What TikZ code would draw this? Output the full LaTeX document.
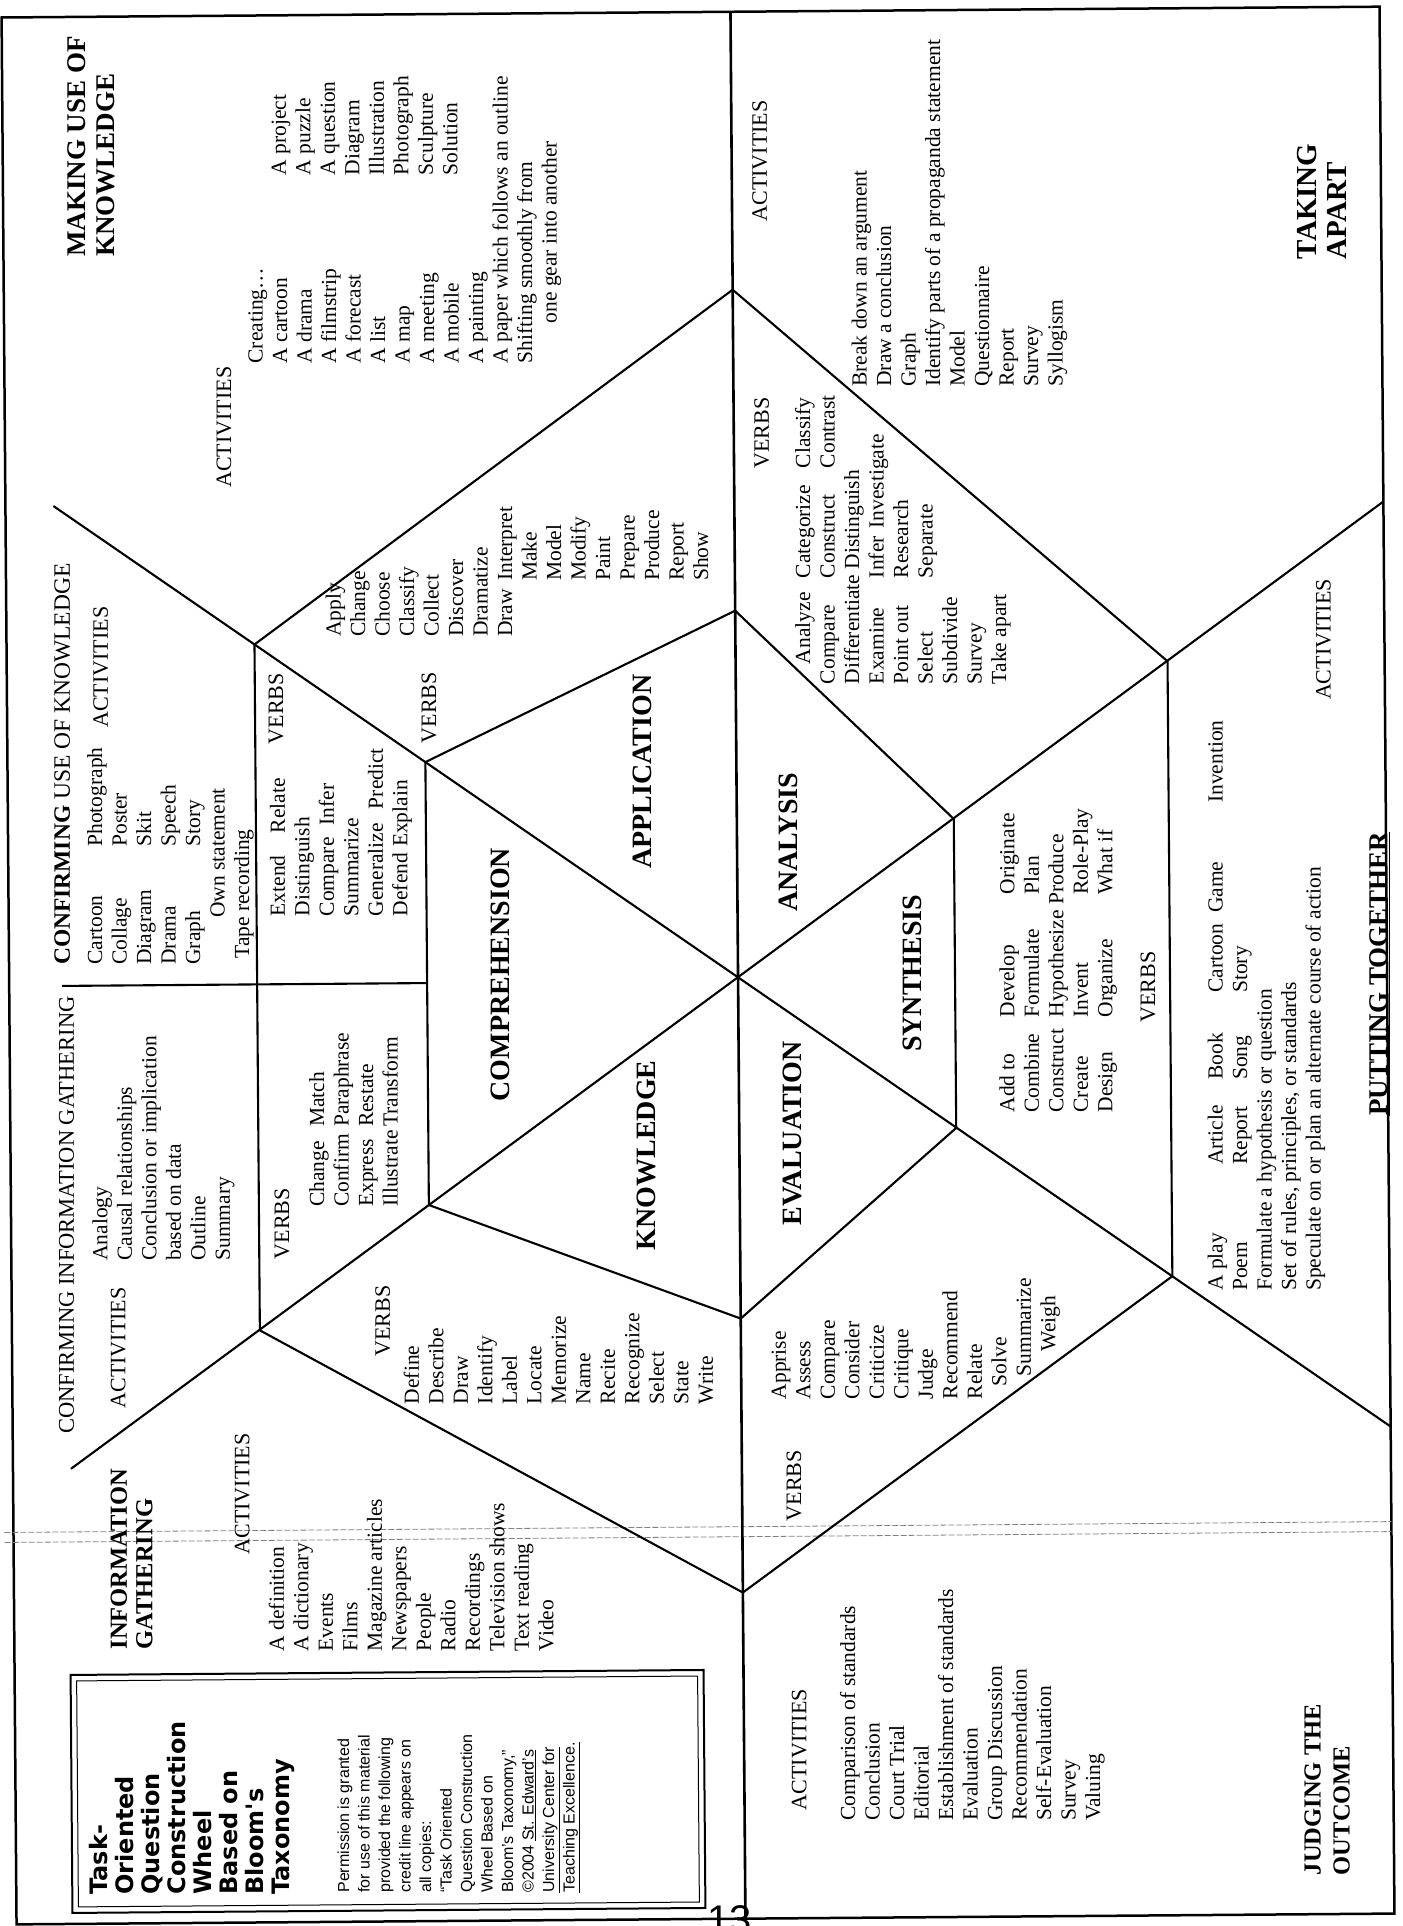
\documentclass[tikz,border=0pt]{standalone}
\usepackage{fontspec}
\setmainfont{Liberation Serif}
\setsansfont{Liberation Sans}
\newfontfamily\wheelsans{DejaVu Sans}
\usepackage{tikz}

\newcommand{\bodyfont}{\fontsize{21.5}{24.5}\selectfont}
\newcommand{\headfont}{\fontsize{22}{24.5}\selectfont}
\newcommand{\sectfont}{\fontsize{22.5}{24.5}\selectfont}
\newcommand{\regionfont}{\fontsize{27}{29}\selectfont\bfseries}
\newcommand{\tierfont}{\fontsize{28}{30}\selectfont\bfseries}
\newcommand{\tcol}[2]{\makebox[#1][l]{#2}}

\begin{document}
\begin{tikzpicture}[x=1pt,y=-1pt,
  ln/.style={line width=2.1pt},
  txt/.style={rotate=90,anchor=north west,inner sep=0pt,align=left,font=\bodyfont},
  head/.style={txt,font=\headfont},
  region/.style={txt,font=\regionfont},
  tier/.style={rotate=90,inner sep=0pt,font=\tierfont}]
  \useasboundingbox (0,0) rectangle (1402,1926);
  \begin{scope}[rotate around={0.45:(701,963)}]
  \coordinate (C) at (738,978);
  \coordinate (PR) at (738,611);
  \coordinate (PL) at (738,1319);
  \coordinate (PTR) at (427,760);
  \coordinate (PTL) at (427,1203);
  \coordinate (PBR) at (955,821);
  \coordinate (PBL) at (955,1130);
  \coordinate (QR) at (738,290);
  \coordinate (QL) at (738,1593);
  \coordinate (QTR) at (257,641);
  \coordinate (QTL) at (257,1327);
  \coordinate (QBR) at (1170,665);
  \coordinate (QBL) at (1170,1280);
  \coordinate (DA) at (57,501);
  \coordinate (DB) at (1387,1432);
  \coordinate (EA) at (67,1464);
  \coordinate (EB) at (1387,507);
  \coordinate (AT) at (738,12);
  \coordinate (AB) at (738,1919);
  \coordinate (H) at (62,981);
  \coordinate (HE) at (427,981);
  % 外枠と折り線
  \draw[line width=2.5pt] (9,12) rectangle (1387,1919);
  \draw[gray,line width=0.8pt,dash pattern=on 6pt off 2pt] (0,1527) -- (1387,1527) (0,1537) -- (1387,1537);
  % 軸と対角線
  \draw[line width=2.6pt] (AT) -- (AB);
  \draw[ln] (DA) -- (DB);
  \draw[ln] (EA) -- (EB);
  \draw[ln] (H) -- (HE);
  % 六角形
  \draw[ln] (PR) -- (PTR) -- (PTL) -- (PL) -- (PBL) -- (PBR) -- cycle;
  \draw[ln] (QR) -- (QTR) -- (QTL) -- (QL) -- (QBL) -- (QBR) -- cycle;
  % 中心の六つの段階
  \node[tier] (comp) at (500,973) {COMPREHENSION};
  \node[tier] (appl) at (644,771) {APPLICATION};
  \node[tier] (know) at (645,1155) {KNOWLEDGE};
  \node[tier] (anal) at (789,843) {ANALYSIS};
  \node[tier] (eval) at (791,1134) {EVALUATION};
  \node[tier] (synt) at (912,975) {SYNTHESIS};
  % MAKING USE OF KNOWLEDGE
  \node[region] (mutitle) at (73,252) {MAKING USE OF\\KNOWLEDGE};
  \node[head] (muact) at (220,484) {ACTIVITIES};
  \node[txt] (mulist) at (253,360) {Creating\ldots\\A cartoon\\A drama\\A filmstrip\\A forecast\\A list\\A map\\A meeting\\A mobile\\A painting\\A paper which follows an outline\\Shifting smoothly from\\\hspace*{40pt}one gear into another};
  \node[txt] (mulist2) at (277.5,172) {A project\\A puzzle\\A question\\Diagram\\Illustration\\Photograph\\Sculpture\\Solution};
  \node[head] (apverbs) at (423,741) {VERBS};
  \node[txt] (aplist) at (328,634) {Apply\\Change\\Choose\\Classify\\Collect\\Discover\\Dramatize\\\tcol{56pt}{Draw}Interpret\\\hspace*{56pt}Make\\\hspace*{56pt}Model\\\hspace*{56pt}Modify\\\hspace*{56pt}Paint\\\hspace*{56pt}Prepare\\\hspace*{56pt}Produce\\\hspace*{56pt}Report\\\hspace*{56pt}Show};
  % TAKING APART
  \node[head] (taact) at (758,222) {ACTIVITIES};
  \node[txt] (talist) at (856,388) {Break down an argument\\Draw a conclusion\\Graph\\Identify parts of a propaganda statement\\Model\\Questionnaire\\Report\\Survey\\Syllogism};
  \node[region,font=\fontsize{29}{30}\selectfont\bfseries] (tatitle) at (1303,264) {TAKING\\APART};
  \node[head] (anverbs) at (758,469) {VERBS};
  \node[txt] (anlist) at (797,685) {\tcol{106pt}{\hspace*{20pt}Analyze}\tcol{110pt}{Categorize}Classify\\\tcol{106pt}{Compare}\tcol{110pt}{Construct}Contrast\\Differentiate Distinguish\\\tcol{106pt}{Examine}Infer\hspace{8pt}Investigate\\\tcol{106pt}{Point out}Research\\\tcol{106pt}{Select}Separate\\Subdivide\\Survey\\Take apart};
  % PUTTING TOGETHER
  \node[txt] (ptverb) at (998,1115) {\tcol{95pt}{Add to}\tcol{123pt}{Develop}Originate\\\tcol{95pt}{Combine}\tcol{123pt}{Formulate}Plan\\\tcol{95pt}{Construct}Hypothesize Produce\\\tcol{95pt}{Create}\tcol{123pt}{Invent}Role-Play\\\tcol{95pt}{Design}\tcol{123pt}{Organize}What if};
  \node[head] (ptverbs) at (1140,1026) {VERBS};
  \node[txt] (ptlist) at (1205,1295) {\tcol{126pt}{A play}\tcol{85pt}{Article}\tcol{87pt}{Book}\tcol{80pt}{Cartoon}\tcol{110pt}{Game}Invention\\\tcol{126pt}{Poem}\tcol{85pt}{Report}\tcol{87pt}{Song}Story\\Formulate a hypothesis or question\\Set of rules, principles, or standards\\Speculate on or plan an alternate course of action};
  \node[head] (ptact) at (1318,705) {ACTIVITIES};
  \node[region,font=\fontsize{27}{29}\selectfont\bfseries] (pttitle) at (1368,1121) {\underline{PUTTING TOGETHER}};
  % JUDGING THE OUTCOME
  \node[region,font=\fontsize{24.5}{29}\selectfont\bfseries] (jotitle) at (1297,1880) {JUDGING THE\\OUTCOME};
  \node[head] (joact) at (785,1811) {ACTIVITIES};
  \node[txt] (jolist) at (833,1822) {Comparison of standards\\Conclusion\\Court Trial\\Editorial\\Establishment of standards\\Evaluation\\Group Discussion\\Recommendation\\Self-Evaluation\\Survey\\Valuing};
  \node[head] (evverbs) at (782,1522) {VERBS};
  \node[txt] (evlist) at (768,1400) {Apprise\\Assess\\Compare\\Consider\\Criticize\\Critique\\Judge\\Recommend\\Relate\\\hspace*{13pt}Solve\\\hspace*{23pt}Summarize\\\hspace*{48pt}Weigh};
  % INFORMATION GATHERING
  \node[region,font=\fontsize{24.5}{25.5}\selectfont\bfseries] (igtitle) at (105,1645) {INFORMATION\\GATHERING};
  \node[head] (igact) at (230,1551) {ACTIVITIES};
  \node[txt] (iglist) at (263,1648) {A definition\\A dictionary\\Events\\Films\\Magazine articles\\Newspapers\\People\\Radio\\Recordings\\Television shows\\Text reading\\Video};
  \node[head] (knverbs) at (372,1354) {VERBS};
  \node[txt] (knlist) at (400,1402) {Define\\Describe\\Draw\\Identify\\Label\\Locate\\Memorize\\Name\\Recite\\Recognize\\Select\\State\\Write};
  % CONFIRMING INFORMATION GATHERING
  \node[txt,font=\sectfont] (cigtitle) at (55,1429) {CONFIRMING INFORMATION GATHERING};
  \node[head] (cigact) at (107,1404) {ACTIVITIES};
  \node[txt] (ciglist) at (90,1256) {Analogy\\Causal relationships\\Conclusion or implication\\based on data\\Outline\\Summary};
  \node[head] (cpverbs) at (272,1256) {VERBS};
  \node[txt] (cplist) at (307,1204) {\tcol{80pt}{Change}Match\\\tcol{80pt}{Confirm}Paraphrase\\\tcol{80pt}{Express}Restate\\\tcol{80pt}{Illustrate}Transform};
  % CONFIRMING USE OF KNOWLEDGE
  \node[txt,font=\fontsize{23.5}{24.5}\selectfont] (cuktitle) at (54,960) {\textbf{CONFIRMING} USE OF KNOWLEDGE};
  \node[head] (cukact) at (95,723) {ACTIVITIES};
  \node[txt] (cuklist) at (87,960) {\tcol{118pt}{Cartoon}Photograph\\\tcol{118pt}{Collage}Poster\\\tcol{118pt}{Diagram}Skit\\\tcol{118pt}{Drama}Speech\\\tcol{118pt}{Graph}Story\\\hspace*{47pt}Own statement\\\hspace*{6pt}Tape recording};
  \node[head] (ckverbs) at (270,741) {VERBS};
  \node[txt] (cklist) at (270,913) {Extend\hspace{22pt}Relate\\Distinguish\\Compare\hspace{12pt}Infer\\Summarize\\Generalize\hspace{14pt}Predict\\Defend\hspace{6pt}Explain};
  % 表題の枠
  \draw[line width=2pt] (65,1670) rectangle (698,1908);
  \draw[line width=1pt] (71,1676) rectangle (692,1902);
  \node[txt,font=\wheelsans\bfseries\fontsize{24}{26}\selectfont] (boxtitle) at (82,1890) {Task-\\Oriented\\Question\\Construction\\Wheel\\Based on\\Bloom's\\Taxonomy};
  \node[txt,font=\sffamily\fontsize{16}{20.5}\selectfont] (boxnote) at (330,1890) {Permission is granted\\for use of this material\\provided the following\\credit line appears on\\all copies:\\``Task Oriented\\Question Construction\\Wheel Based on\\Bloom's Taxonomy,''\\©2004 \underline{St. Edward's}\\\underline{University Center for}\\\underline{Teaching Excellence.}};
  \node[anchor=north,inner sep=0pt,font=\sffamily\fontsize{40}{40}\selectfont] (pnum) at (722,1906) {13};
  \end{scope}
\end{tikzpicture}
\end{document}
